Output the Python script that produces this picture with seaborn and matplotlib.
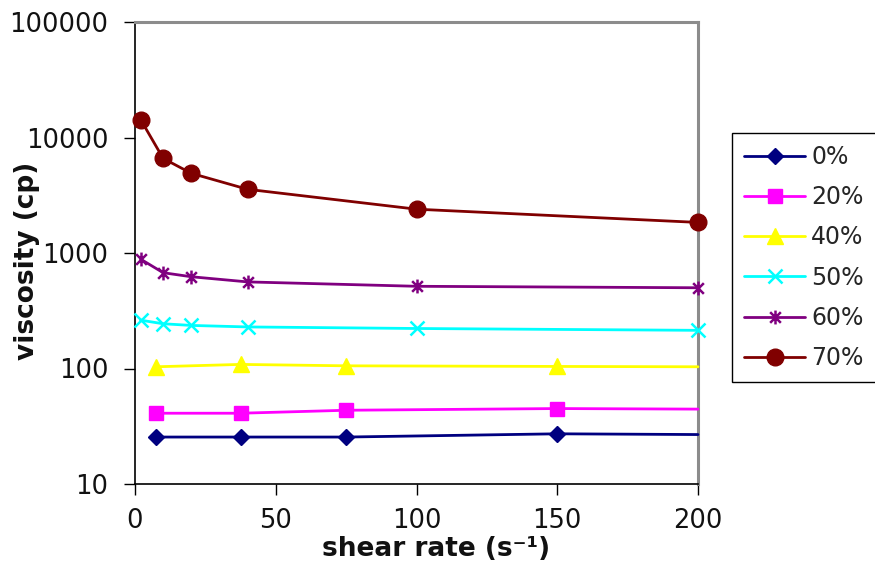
import numpy as np
import pandas as pd
import matplotlib
matplotlib.use("Agg")
import matplotlib.pyplot as plt
from matplotlib.path import Path
import seaborn as sns

# ---- data ----
labels = ["0%", "20%", "40%", "50%", "60%", "70%"]

x_low = [7.5, 37.5, 75, 150, 200]          # 0%, 20%, 40% (last point has no marker)
y_0 = [25.5, 25.5, 25.5, 27.2, 26.8]
y_20 = [41, 41, 43.5, 45, 44.5]
y_40 = [103.5, 108.5, 105.5, 104.2, 103.5]

x_high = [2, 10, 20, 40, 100, 200]          # 50%, 60%, 70%
y_50 = [262, 244, 236, 229, 222, 214]
y_60 = [885, 675, 623, 562, 515, 500]
y_70 = [14300, 6590, 4895, 3560, 2395, 1840]

x_ticks = [0, 50, 100, 150, 200]
y_ticks = [10, 100, 1000, 10000, 100000]

colors = ["#000080", "#FF00FF", "#FFFF00", "#00FFFF", "#800080", "#800000"]

asterisk = Path([(-1, -1), (1, 1), (-1, 1), (1, -1), (0, -1.3), (0, 1.3)],
                [Path.MOVETO, Path.LINETO, Path.MOVETO, Path.LINETO, Path.MOVETO, Path.LINETO])

series = [
    (x_low, y_0, "D", 8, [0, 1, 2, 3]),
    (x_low, y_20, "s", 10, [0, 1, 2, 3]),
    (x_low, y_40, "^", 11, [0, 1, 2, 3]),
    (x_high, y_50, "x", 10, None),
    (x_high, y_60, asterisk, 10, None),
    (x_high, y_70, "o", 12, None),
]

sns.set_style("ticks")
plt.rcParams["font.family"] = ["DejaVu Sans"]

fig = plt.figure(figsize=(8.75, 5.73), dpi=100)
ax = fig.add_axes([135 / 875, 1 - 484 / 573, (698 - 135) / 875, (484 - 22) / 573])

for (xs, ys, mk, ms, me), lab, col in zip(series, labels, colors):
    df = pd.DataFrame({"x": xs, "y": ys})
    mew = 1.8 if mk in ("x",) or isinstance(mk, Path) else 1.0
    sns.lineplot(data=df, x="x", y="y", ax=ax, color=col, lw=2.0,
                 marker=mk, markersize=ms, markevery=me,
                 markerfacecolor=col, markeredgecolor=col, markeredgewidth=mew,
                 label=lab, sort=False, estimator=None, legend=False,
                 clip_on=False, zorder=3)

ax.set_yscale("log")
ax.set_xlim(0, 200)
ax.set_ylim(10, 100000)
ax.set_xticks(x_ticks)
ax.set_xticklabels([str(t) for t in x_ticks])
ax.set_yticks(y_ticks)
ax.set_yticklabels([str(t) for t in y_ticks])
ax.yaxis.set_minor_locator(matplotlib.ticker.NullLocator())
ax.tick_params(axis="both", which="major", direction="out", length=8, width=1,
               color="black", labelsize=18.5, labelcolor="#111111")
ax.tick_params(axis="x", pad=9)
ax.tick_params(axis="y", pad=11)

for s in ("left", "bottom"):
    ax.spines[s].set_color("black")
    ax.spines[s].set_linewidth(1.2)
for s in ("top", "right"):
    ax.spines[s].set_visible(True)
    ax.spines[s].set_color("#8c8c8c")
    ax.spines[s].set_linewidth(2.2)

ax.set_xlabel("shear rate (s\u207b\u00b9)", fontsize=19, fontweight="bold", color="#111111")
ax.set_ylabel("viscosity (cp)", fontsize=19, fontweight="bold", color="#111111")
ax.xaxis.set_label_coords(0.535, -0.112)
ax.yaxis.set_label_coords(-0.168, 0.483)
ax.grid(False)

handles, labs = ax.get_legend_handles_labels()
leg = fig.legend(handles, labs, loc="upper left",
                 bbox_to_anchor=(732 / 875, 1 - 133 / 573),
                 fontsize=17, frameon=True, fancybox=False, edgecolor="black",
                 framealpha=1, borderpad=0.5, labelspacing=0.69,
                 handlelength=2.6, handletextpad=0.25, numpoints=1,
                 borderaxespad=0)
leg.get_frame().set_linewidth(1.0)

fig.savefig("out.png", dpi=100, facecolor="white")
